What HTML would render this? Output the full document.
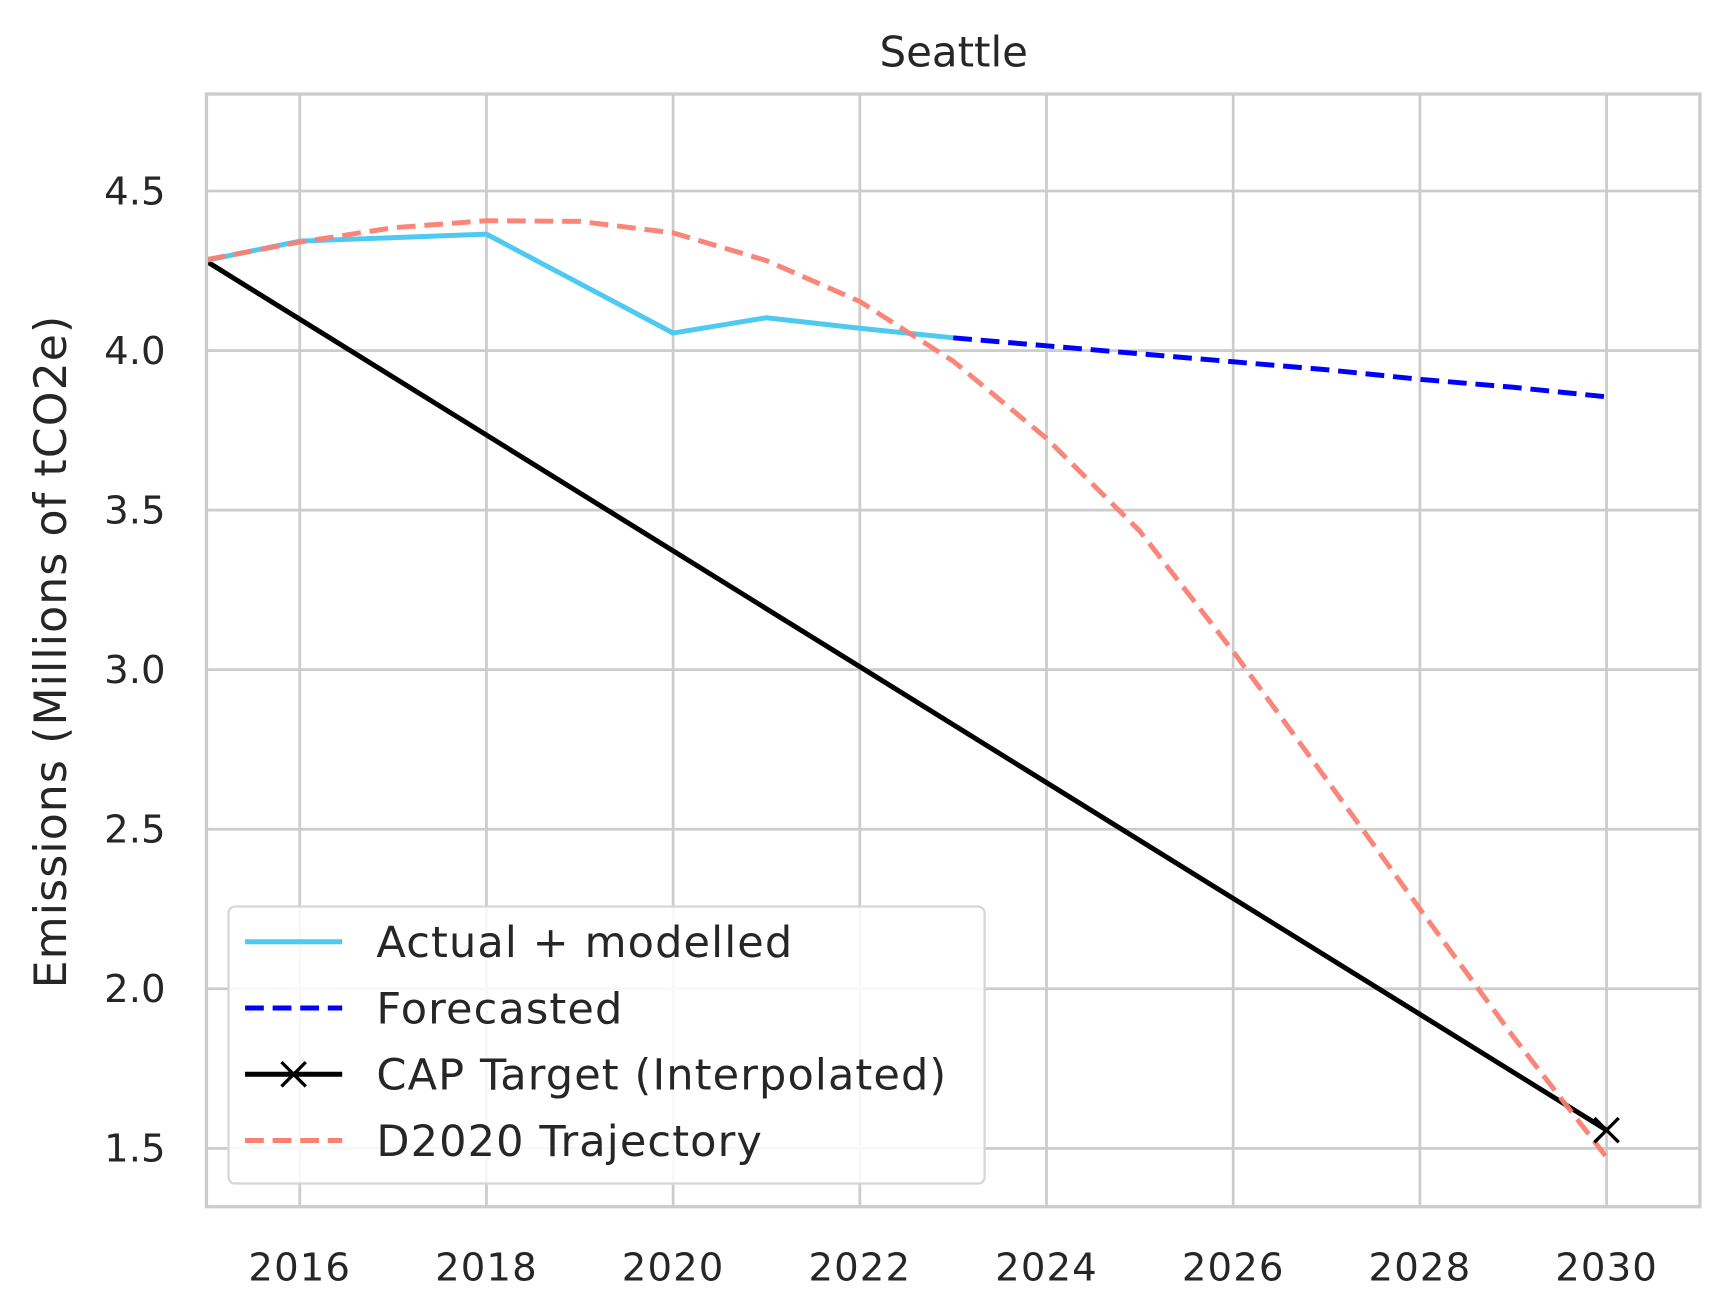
<!DOCTYPE html>
<html><head><meta charset="utf-8"><style>
html,body{margin:0;padding:0;background:#fff;}
svg{display:block;font-family:"DejaVu Sans","Liberation Sans",sans-serif;}
</style></head><body>
<svg id="chart" width="1722" height="1314" viewBox="0 0 1560 1190" xmlns="http://www.w3.org/2000/svg">
<rect x="0" y="0" width="1560" height="1190" fill="#fff"/>
<g id="grid"></g>
<g id="series"></g>
<rect x="187" y="85" width="1353" height="1008" fill="none" stroke="#cccccc" stroke-width="3"/>
<g id="ticks"></g>
<text x="864" y="60" text-anchor="middle" font-size="38" fill="#262626">Seattle</text>
<text transform="translate(60,590) rotate(-90)" text-anchor="middle" font-size="40" letter-spacing="1" fill="#262626">Emissions (Millions of tCO2e)</text>
<g id="legend">
<rect x="207" y="821" width="685" height="251" rx="6" fill="#fff" fill-opacity="0.85" stroke="#d6d6d6" stroke-width="2"/>
<g><line x1="222" y1="853" x2="310" y2="853" stroke="#4ec9f0" stroke-width="4.5"/><text x="341" y="867" font-size="39" letter-spacing="1" fill="#262626">Actual + modelled</text></g>
<g><line x1="222" y1="913" x2="310" y2="913" stroke="#0000ff" stroke-width="4.5" stroke-dasharray="17,8"/><text x="341" y="927" font-size="39" letter-spacing="1" fill="#262626">Forecasted</text></g>
<g><line x1="222" y1="973" x2="310" y2="973" stroke="#000" stroke-width="4.5"/><path d="M255,962 L277,984 M255,984 L277,962" stroke="#000" stroke-width="3"/><text x="341" y="987" font-size="39" letter-spacing="1" fill="#262626">CAP Target (Interpolated)</text></g>
<g><line x1="222" y1="1033" x2="310" y2="1033" stroke="#fa8072" stroke-width="4.5" stroke-dasharray="17,8"/><text x="341" y="1047" font-size="39" letter-spacing="1" fill="#262626">D2020 Trajectory</text></g>
</g>
</svg>
<script>
const xTicks = [2016, 2018, 2020, 2022, 2024, 2026, 2028, 2030];
const yTicks = [1.5, 2.0, 2.5, 3.0, 3.5, 4.0, 4.5];
const actualYears = [2015, 2016, 2018, 2020, 2021, 2022, 2023];
const actualValues = [4.283, 4.343, 4.365, 4.055, 4.103, 4.07, 4.04];
const forecastYears = [2023, 2024, 2025, 2026, 2027, 2028, 2029, 2030];
const forecastValues = [4.04, 4.015, 3.99, 3.965, 3.94, 3.91, 3.885, 3.855];
const capYears = [2015, 2030];
const capValues = [4.28, 1.557];
const d2020Years = [2015,2016,2017,2018,2019,2020,2021,2022,2023,2024,2025,2026,2027,2028,2029,2030];
const d2020Values = [4.285,4.34,4.385,4.407,4.405,4.369,4.282,4.154,3.967,3.725,3.434,3.057,2.656,2.25,1.85,1.472];

const L=187,R=1540,T=85,B=1093;
const xMin=2015,xMax=2031,yMin=1.317,yMax=4.804;
const xs=v=>L+(v-xMin)/(xMax-xMin)*(R-L);
const ys=v=>B-(v-yMin)/(yMax-yMin)*(B-T);
const NS="http://www.w3.org/2000/svg";
const grid=document.getElementById('grid'),ticks=document.getElementById('ticks'),series=document.getElementById('series');
function mk(tag,attrs,parent){const e=document.createElementNS(NS,tag);for(const k in attrs)e.setAttribute(k,attrs[k]);parent.appendChild(e);return e;}
xTicks.forEach(t=>{
  const g=mk('line',{x1:xs(t),x2:xs(t),y1:T,y2:B,stroke:'#cccccc','stroke-width':2.5},grid);
  
  
  const tx=mk('text',{x:xs(t),y:1160,'text-anchor':'middle','font-size':35,'letter-spacing':1,fill:'#262626'},ticks);
  tx.textContent=t;
  
  
});
yTicks.forEach(t=>{
  const g=mk('line',{x1:L,x2:R,y1:ys(t),y2:ys(t),stroke:'#cccccc','stroke-width':2.5},grid);
  
  
  const tx=mk('text',{x:150,y:ys(t)+12,'text-anchor':'end','font-size':35,fill:'#262626'},ticks);
  tx.textContent=t.toFixed(1);
  
  
});
function line(xv,yv,attrs,name){
  const p=mk('polyline',Object.assign({points:xv.map((x,i)=>xs(x)+','+ys(yv[i])).join(' '),fill:'none','stroke-width':4.5,'stroke-linejoin':'round'},attrs),series);
  
  
  return p;
}
line(capYears,capValues,{stroke:'#000'},'cap-target-line');
line(actualYears,actualValues,{stroke:'#4ec9f0'},'actual-line');
line(forecastYears,forecastValues,{stroke:'#0000ff','stroke-dasharray':'17,8'},'forecast-line');
line(d2020Years,d2020Values,{stroke:'#fa8072','stroke-dasharray':'17,8','stroke-opacity':0.95},'d2020-line');
const mx=xs(capYears[1]),my=ys(capValues[1]);
const m=mk('path',{d:`M${mx-11},${my-11} L${mx+11},${my+11} M${mx-11},${my+11} L${mx+11},${my-11}`,stroke:'#000','stroke-width':3},series);


</script>
</body></html>
